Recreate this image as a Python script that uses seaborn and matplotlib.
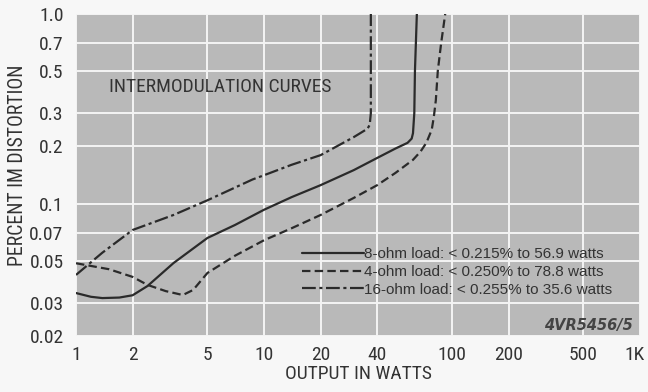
import numpy as np
import pandas as pd
import seaborn as sns
import matplotlib
matplotlib.use('Agg')
import matplotlib.pyplot as plt
import matplotlib.transforms as mtransforms
from matplotlib import font_manager
from matplotlib.ticker import FixedLocator, NullLocator

# values (output watts, percent IM distortion)
watts_8 = [1, 1.2, 1.38, 1.7, 2, 2.4, 3.3, 5, 7, 10, 14, 20, 30, 40, 50, 58, 61, 62, 63, 63.5, 65]
im_8 = [0.0337, 0.0322, 0.0317, 0.0319, 0.0328, 0.0367, 0.0485, 0.0658, 0.077, 0.0927, 0.108, 0.125,
        0.15, 0.174, 0.195, 0.209, 0.22, 0.235, 0.3, 0.5, 1.0]

watts_4 = [1, 1.5, 2, 2.4, 3, 3.7, 4.2, 5, 7, 10, 14, 20, 30, 40, 50, 62, 68, 73, 78, 80, 82, 84, 87.5, 92]
im_4 = [0.0484, 0.045, 0.041, 0.0372, 0.0345, 0.0329, 0.035, 0.043, 0.053, 0.064, 0.074, 0.087,
        0.107, 0.125, 0.145, 0.17, 0.188, 0.209, 0.245, 0.286, 0.35, 0.5, 0.7, 1.0]

watts_16 = [1, 1.38, 2, 3.3, 5, 8.7, 10, 14, 20, 30, 35.5, 36.5, 37, 37]
im_16 = [0.042, 0.055, 0.0725, 0.087, 0.104, 0.134, 0.141, 0.16, 0.18, 0.224, 0.248, 0.26, 0.3, 1.0]

labels = ['8-ohm load: < 0.215% to 56.9 watts',
          '4-ohm load: < 0.250% to 78.8 watts',
          '16-ohm load: < 0.255% to 35.6 watts']

x_ticks = [1, 2, 5, 10, 20, 40, 100, 200, 500, 1000]
x_ticklabels = ['1', '2', '5', '10', '20', '40', '100', '200', '500', '1K']
y_ticks = [0.02, 0.03, 0.05, 0.07, 0.1, 0.2, 0.3, 0.5, 0.7, 1.0]
y_ticklabels = ['0.02', '0.03', '0.05', '0.07', '0.1', '0.2', '0.3', '0.5', '0.7', '1.0']

sns.set_style('whitegrid', {'axes.facecolor': '#b9b9b9', 'grid.color': '#f4f4f4',
                            'axes.edgecolor': '#b9b9b9'})

# narrow face for the old typeset labels, if one is around
names = {f.name for f in font_manager.fontManager.ttflist}
narrow = None
for cand in ['Liberation Sans Narrow', 'DejaVu Sans Condensed', 'Roboto Condensed', 'Open Sans Condensed']:
    if cand in names:
        narrow = cand
        break
has_cond = any(f.name == 'DejaVu Sans' and f.stretch == 'condensed' for f in font_manager.fontManager.ttflist)
if narrow is None:
    narrow = 'DejaVu Sans' if has_cond else 'Roboto'
plt.rcParams['font.family'] = [narrow, 'DejaVu Sans']
plt.rcParams['font.stretch'] = 'condensed'

fig = plt.figure(figsize=(6.48, 3.92), dpi=100, facecolor='#f7f7f7')
ax = fig.add_axes([0.1173, 0.1429, 0.8704, 0.8214])

ink = '#2a2a2a'
sns.lineplot(x=watts_8, y=im_8, ax=ax, color=ink, lw=1.6, sort=False, estimator=None,
             label=labels[0])
sns.lineplot(x=watts_4, y=im_4, ax=ax, color=ink, lw=1.6, sort=False, estimator=None,
             linestyle=(0, (3.8, 1.9)), label=labels[1])
sns.lineplot(x=watts_16, y=im_16, ax=ax, color=ink, lw=1.6, sort=False, estimator=None,
             linestyle=(0, (6.2, 1.6, 1.4, 1.6)), label=labels[2])

ax.set_xscale('log')
ax.set_yscale('log')
ax.set_xlim(1, 1000)
ax.set_ylim(0.02, 1.0)
ax.xaxis.set_major_locator(FixedLocator(x_ticks))
ax.yaxis.set_major_locator(FixedLocator(y_ticks))
ax.xaxis.set_minor_locator(NullLocator())
ax.yaxis.set_minor_locator(NullLocator())
ax.set_xticklabels(x_ticklabels)
ax.set_yticklabels(y_ticklabels)
ax.grid(True, which='major', color='#f4f4f4', lw=1.4)
ax.tick_params(length=0, labelsize=14, colors='#333333')
ax.tick_params(axis='y', pad=9)
ax.tick_params(axis='x', pad=7)
for s in ax.spines.values():
    s.set_visible(False)

# "1K" sits a touch left of its gridline so it stays inside the page
last = ax.get_xticklabels()[-1]
last.set_transform(last.get_transform() + mtransforms.ScaledTranslation(-4 / 72, 0, fig.dpi_scale_trans))

ax.set_xlabel('OUTPUT IN WATTS', fontsize=14, color='#333333', labelpad=1)
ax.set_ylabel('PERCENT IM DISTORTION', fontsize=14.2, color='#333333')
ax.yaxis.set_label_coords(-0.087, 0.531)

ax.text(1.5, 0.41, 'INTERMODULATION CURVES', fontsize=14, color='#333333', va='center')
ax.text(0.988, 0.034, '4VR5456/5', transform=ax.transAxes, ha='right', va='center',
        fontsize=10.5, style='italic', weight='bold', color='#444444',
        family='DejaVu Sans', stretch='normal')

leg = ax.legend(loc='upper left', bbox_to_anchor=(0.40, 0.276), frameon=False,
                handlelength=4.1, handletextpad=0.0, labelspacing=0.25, borderpad=0,
                borderaxespad=0, prop={'family': ['Liberation Sans', 'DejaVu Sans'], 'size': 11})
for t in leg.get_texts():
    t.set_color('#333333')

fig.savefig('out.png', dpi=100, facecolor=fig.get_facecolor())
